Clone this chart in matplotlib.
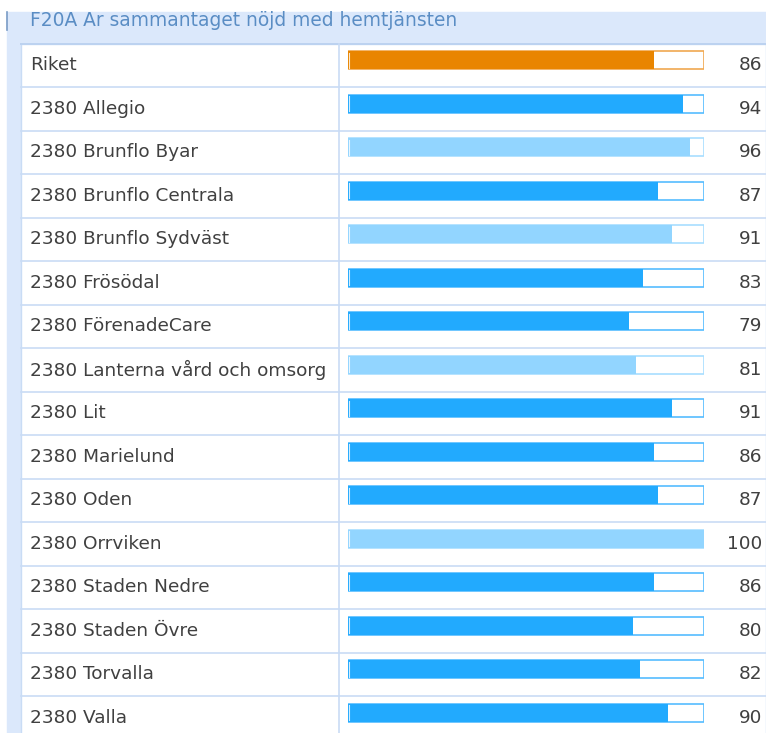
import numpy as np
import matplotlib
matplotlib.use("Agg")
from matplotlib import pyplot as plt
from matplotlib.patches import Rectangle

title = "F20A Ar sammantaget nöjd med hemtjänsten"
units = ["Riket", "2380 Allegio", "2380 Brunflo Byar", "2380 Brunflo Centrala",
         "2380 Brunflo Sydväst", "2380 Frösödal", "2380 FörenadeCare",
         "2380 Lanterna vård och omsorg", "2380 Lit", "2380 Marielund", "2380 Oden",
         "2380 Orrviken", "2380 Staden Nedre", "2380 Staden Övre", "2380 Torvalla",
         "2380 Valla"]
values = [86, 94, 96, 87, 91, 83, 79, 81, 91, 86, 87, 100, 86, 80, 82, 90]
# bar kind: 0 = riket, 1 = normal, 2 = light
kinds = [0, 1, 2, 1, 2, 1, 1, 2, 1, 1, 1, 2, 1, 1, 1, 1]

fill_cols = {0: "#e98500", 1: "#22aafe", 2: "#92d5ff"}
edge_cols = {0: "#f0a850", 1: "#55bcff", 2: "#a8deff"}

W, H = 766, 733
fig = plt.figure(figsize=(W / 100, H / 100), dpi=100)

# background layer in pixel coordinates
bg = fig.add_axes([0, 0, 1, 1])
bg.set_xlim(0, W)
bg.set_ylim(H, 0)
bg.axis("off")

row_h = 43.5
top = 43.5
n = len(units)
grid_col = "#c9dcf5"

bg.add_patch(Rectangle((7, 12), W - 7, H, color="#dbe8fb", zorder=0))
bg.plot([6.5, 6.5], [12, 30], color="#7a9cc6", lw=1.2, zorder=1)
bg.add_patch(Rectangle((21, top), W - 21, n * row_h, facecolor="white",
                       edgecolor=grid_col, lw=1, zorder=1))
for i in range(n + 1):
    bg.plot([21, W], [top + i * row_h] * 2, color=grid_col, lw=1.2, zorder=2)
bg.plot([21, W], [top, top], color="#bcd2f0", lw=1.4, zorder=2)
bg.plot([338.5, 338.5], [top, H], color=grid_col, lw=1.2, zorder=2)
bg.text(30, 21, title, fontsize=13.4, color="#5a8dc4", va="center", ha="left")

# bar axes
x0, x1 = 347.5, 704
ax = fig.add_axes([x0 / W, (H - top - n * row_h) / H, (x1 - x0) / W, n * row_h / H])
ax.set_xlim(0, 100)
ax.set_ylim(n, 0)
ax.axis("off")
ax.patch.set_alpha(0)

y = np.arange(n) + 0.385
bh = 0.41
for i in range(n):
    k = kinds[i]
    ax.barh(y[i], 100, height=bh, color="white", edgecolor=edge_cols[k], lw=1.2, zorder=2)
    ax.barh(y[i], values[i], height=bh, color=fill_cols[k], lw=0, zorder=3)
    ax.plot([0.55, 0.55], [y[i] - bh / 2 + 0.03, y[i] + bh / 2 - 0.03],
            color="white", lw=0.8, zorder=4, alpha=0.8)
    ax.annotate(units[i], xy=(30, i + 0.5), xycoords=("figure pixels", "data"),
                fontsize=13.3, color="#404040", va="center", ha="left",
                annotation_clip=False)
    ax.annotate(str(values[i]), xy=(762, i + 0.5), xycoords=("figure pixels", "data"),
                fontsize=13.3, color="#404040", va="center", ha="right",
                annotation_clip=False)

fig.savefig("out.png", dpi=100)
